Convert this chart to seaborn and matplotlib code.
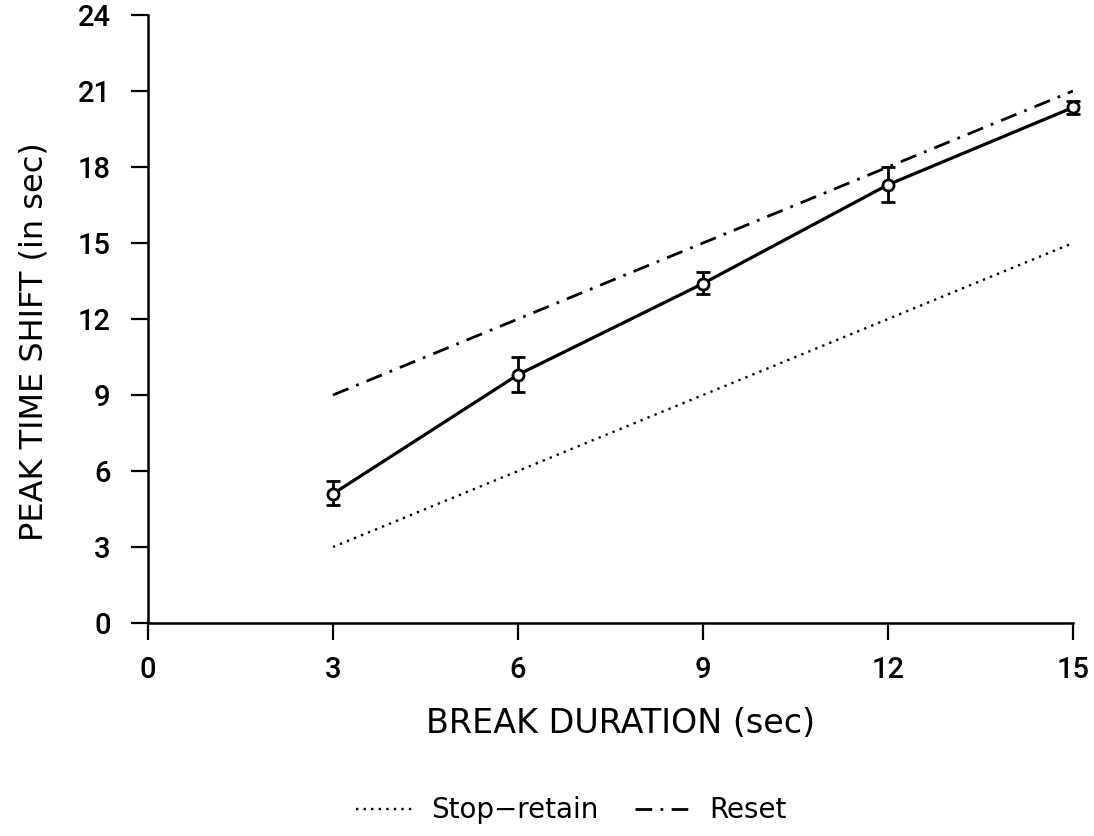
import matplotlib
matplotlib.use("Agg")
import matplotlib.pyplot as plt
import seaborn as sns
import pandas as pd
import numpy as np

sns.set_style("ticks")
plt.rcParams['font.family'] = ['DejaVu Sans']
plt.rcParams['text.color'] = 'black'
plt.rcParams['axes.labelcolor'] = 'black'
plt.rcParams['xtick.color'] = 'black'
plt.rcParams['ytick.color'] = 'black'
plt.rcParams['axes.edgecolor'] = 'black'

break_dur = [3, 6, 9, 12, 15]
peak_shift = [5.1, 9.8, 13.4, 17.3, 20.35]
err_low = [0.45, 0.7, 0.4, 0.7, 0.25]
err_high = [0.5, 0.7, 0.45, 0.7, 0.25]
stop_retain = [3, 6, 9, 12, 15]
reset = [9, 12, 15, 18, 21]

fig = plt.figure(figsize=(10.94, 8.36), dpi=100)
# x: 0 -> 148 px, 15 -> 1073 px ; y: 0 -> 623 px, 24 -> 15 px
ax = fig.add_axes([148 / 1094, 1 - 623 / 836, 925 / 1094, 608 / 836])

df = pd.DataFrame({"x": break_dur, "y": peak_shift})
sns.lineplot(x=break_dur, y=stop_retain, ax=ax, color="black", lw=1.7,
             linestyle=(0, (1, 2.2)), label="Stop\u2212retain")
sns.lineplot(x=break_dur, y=reset, ax=ax, color="black", lw=2.0,
             linestyle=(0, (6, 3, 1, 3)), label="Reset")
ax.errorbar(break_dur, peak_shift, yerr=[err_low, err_high], fmt="none",
            ecolor="black", elinewidth=2.0, capsize=5, capthick=2.0, zorder=3,
            clip_on=False)
sns.lineplot(data=df, x="x", y="y", ax=ax, color="black", lw=2.3,
             marker="o", markersize=8, markerfacecolor="white",
             markeredgecolor="black", markeredgewidth=2.0, legend=False, zorder=4,
             clip_on=False)

ax.set_xlim(0, 15)
ax.set_ylim(0, 24)
ax.set_xticks([0, 3, 6, 9, 12, 15])
ax.set_yticks(range(0, 25, 3))
for lab in ax.get_xticklabels() + ax.get_yticklabels():
    lab.set_family(['Roboto', 'DejaVu Sans'])
    lab.set_fontweight('medium')
ax.tick_params(axis="both", labelsize=21, width=1.6, length=12, direction="out")
ax.tick_params(axis="y", pad=15)
ax.tick_params(axis="x", pad=12)
ax.spines["top"].set_visible(False)
ax.spines["right"].set_visible(False)
ax.spines["left"].set_linewidth(1.8)
ax.spines["bottom"].set_linewidth(1.8)
ax.set_xlabel("BREAK DURATION (sec)", fontsize=24)
ax.set_ylabel("PEAK TIME SHIFT (in sec)", fontsize=23)
ax.xaxis.set_label_coords((621 - 148) / 925, -(707 - 623) / 608)
ax.yaxis.set_label_coords(-(148 - 50) / 925, (623 - 342) / 608)

ax.legend(loc="center", bbox_to_anchor=(0.458, -0.308), ncol=2,
          frameon=False, fontsize=20, handlelength=2.0, columnspacing=1.3,
          handletextpad=0.7)

fig.savefig("out.png", dpi=100)
